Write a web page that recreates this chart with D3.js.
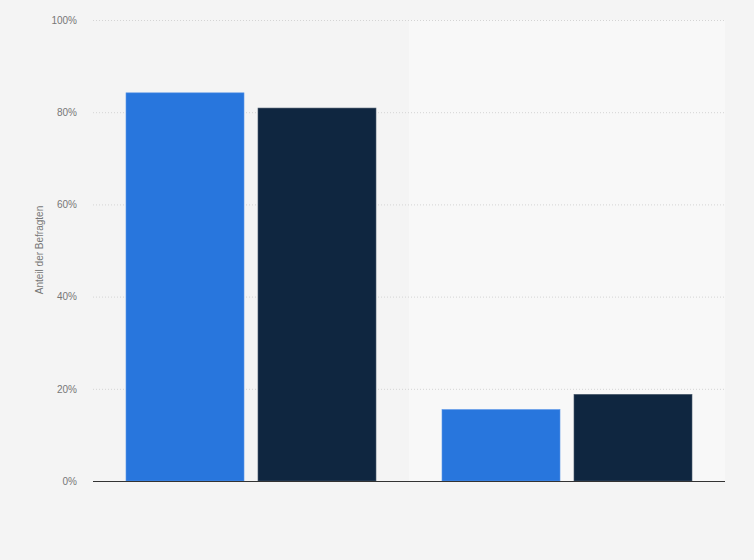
<!DOCTYPE html>
<html>
  <head>
    <meta charset="utf-8">
    <title>Anteil der Befragten</title>
    <style>
      html, body { margin: 0; padding: 0; background: #f4f4f4; }
      svg { display: block; font-family: "Liberation Sans", Arial, sans-serif; }
      .grid line { stroke: #d4d4d4; stroke-dasharray: 1,2; }
      .tick text { fill: #777; font-size: 10px; }
    </style>
  </head>
  <body>
    <svg width="754" height="560"></svg>
    <script src="https://d3js.org/d3.v7.min.js"></script>
    <script>
      // categories have no visible labels in the picture
      const categories = ["", " "];
      const series = ["Reihe 1", "Reihe 2"];
      const seriesA = [84.2, 15.5];
      const seriesB = [80.9, 18.8];
      const yTicks = [0, 20, 40, 60, 80, 100];
      const colors = ["#2876dd", "#0f2640"];

      const svg = d3.select("svg");
      const margin = {top: 20, right: 29, bottom: 79, left: 93};
      const width = 754 - margin.left - margin.right;
      const height = 560 - margin.top - margin.bottom;

      const g = svg.append("g")
        .attr("transform", `translate(${margin.left},${margin.top})`);

      const x0 = d3.scaleBand().domain(categories).range([0, width]);
      const x1 = d3.scaleBand().domain(series)
        .range([33, x0.bandwidth() - 33])
        .paddingInner(0.106);
      const y = d3.scaleLinear().domain([0, 100]).range([height, 0]);

      // lighter band behind the second group
      g.append("rect")
        .attr("x", x0(categories[1]))
        .attr("y", 0)
        .attr("width", x0.bandwidth())
        .attr("height", height)
        .attr("fill", "#f8f8f8");

      // grid lines
      g.append("g")
        .attr("class", "grid")
        .selectAll("line")
        .data(yTicks.filter(d => d > 0))
        .join("line")
        .attr("x1", 0)
        .attr("x2", width)
        .attr("y1", d => y(d) + 0.5)
        .attr("y2", d => y(d) + 0.5);

      // y axis labels
      const yAxis = g.append("g")
        .call(d3.axisLeft(y).tickValues(yTicks).tickFormat(d => d + "%").tickSize(0).tickPadding(16));
      yAxis.select(".domain").remove();

      const data = categories.map((c, i) => ({cat: c, values: [seriesA[i], seriesB[i]]}));

      g.selectAll(".group")
        .data(data)
        .join("g")
        .attr("class", "group")
        .attr("transform", d => `translate(${x0(d.cat)},0)`)
        .selectAll("rect")
        .data(d => d.values.map((v, j) => ({s: series[j], v: v, j: j})))
        .join("rect")
        .attr("x", d => x1(d.s))
        .attr("y", d => y(d.v))
        .attr("width", x1.bandwidth())
        .attr("height", d => height - y(d.v))
        .attr("fill", d => colors[d.j])
        .attr("stroke", d => d.j === 0 ? "#5b97e8" : "#4a5a6c")
        .attr("stroke-width", 0.6);

      // baseline
      g.append("line")
        .attr("x1", 0)
        .attr("x2", width)
        .attr("y1", height + 0.5)
        .attr("y2", height + 0.5)
        .attr("stroke", "#333")
        .attr("stroke-width", 1);

      // y axis title
      svg.append("text")
        .attr("transform", "translate(43,250) rotate(-90)")
        .attr("text-anchor", "middle")
        .attr("fill", "#777")
        .attr("font-size", "10px")
        .text("Anteil der Befragten");
    </script>
  </body>
</html>
